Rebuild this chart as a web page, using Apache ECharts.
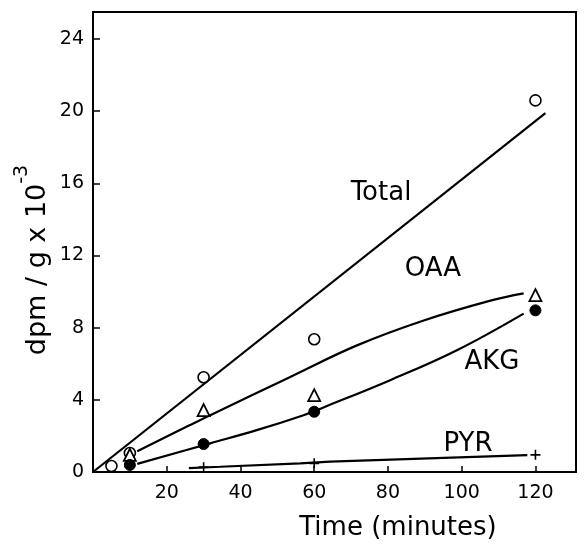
<!DOCTYPE html>
<html>
<head>
<meta charset="utf-8">
<script src="https://cdn.jsdelivr.net/npm/echarts@6/dist/echarts.min.js"></script>
<style>
  html, body { margin: 0; padding: 0; background: #fff; }
  #chart { width: 584px; height: 548px; }
</style>
</head>
<body>
<div id="chart"></div>
<script>
// measured points (time in minutes, dpm/g x 10^-3)
var totalPts = [[5, 0.33], [10, 1.05], [30, 5.25], [60, 7.36], [120, 20.6]];
var oaaPts = [[10, 0.95], [30, 3.43], [60, 4.26], [120, 9.8]];
var akgPts = [[10, 0.39], [30, 1.55], [60, 3.34], [120, 8.96]];
var pyrPts = [[30, 0.27], [60, 0.48], [120, 0.95]];

// hand drawn curves
var totalFit = [[0, 0], [122.7, 19.9]];
var oaaFit = [[12, 1.15], [26.3, 2.6], [31.8, 3.15], [53.5, 5.27], [71.6, 7.02], [89.7, 8.4], [107.8, 9.5], [116.8, 9.9]];
var akgFit = [[12, 0.45], [31.8, 1.59], [44.4, 2.32], [57.1, 3.15], [62.5, 3.58], [80.6, 5.09], [98.7, 6.75], [116.8, 8.78]];
var pyrFit = [[26, 0.22], [34.5, 0.29], [56.2, 0.48], [64.3, 0.57], [117.8, 0.94]];

var yTicks = [0, 4, 8, 12, 16, 20, 24];
var xTicks = [20, 40, 60, 80, 100, 120];

var myChart = echarts.init(document.getElementById('chart'));

var font = 'DejaVu Sans';
var plus = 'path://M4.2,0h1.6v4.2h4.2v1.6h-4.2v4.2h-1.6v-4.2h-4.2v-1.6h4.2z';

function fit(data, smooth) {
    return {
        type: 'line', data: data, showSymbol: false, smooth: smooth,
        lineStyle: { color: '#000', width: 2.2 }, z: 2, silent: true
    };
}

function pts(data, symbol, size, fill, bw) {
    return {
        type: 'scatter', data: data, symbol: symbol, symbolSize: size,
        itemStyle: { color: fill, borderColor: '#000', borderWidth: bw, opacity: 1 },
        z: 5
    };
}

function note(x, y, txt) {
    return {
        type: 'text', x: x, y: y,
        style: { text: txt, font: '26px ' + font, fill: '#000', align: 'center', verticalAlign: 'middle' }
    };
}

var option = {
    animation: false,
    backgroundColor: '#fff',
    grid: {
        left: 93, right: 8, top: 12, bottom: 76,
        show: true, borderColor: '#000', borderWidth: 2
    },
    xAxis: {
        type: 'value', min: 0, max: 131, interval: 20,
        axisLine: { show: true, lineStyle: { color: '#000', width: 2 } },
        axisTick: { inside: true, length: 6, lineStyle: { color: '#000', width: 1.5 } },
        splitLine: { show: false },
        axisLabel: {
            showMinLabel: false, showMaxLabel: false, margin: 12,
            color: '#000', fontFamily: font, fontSize: 19,
            formatter: function (v) { return xTicks.indexOf(v) >= 0 ? String(v) : ''; }
        }
    },
    yAxis: {
        type: 'value', min: 0, max: 25.5, interval: 4,
        axisLine: { show: true, lineStyle: { color: '#000', width: 2 } },
        axisTick: { inside: true, length: 7, lineStyle: { color: '#000', width: 1.5 } },
        splitLine: { show: false },
        axisLabel: {
            showMaxLabel: false, margin: 9,
            color: '#000', fontFamily: font, fontSize: 19,
            formatter: function (v) { return yTicks.indexOf(v) >= 0 ? String(v) : ''; }
        }
    },
    series: [
        fit(totalFit, false),
        fit(oaaFit, 0.4),
        fit(akgFit, 0.4),
        fit(pyrFit, false),
        pts(totalPts, 'circle', 11, '#fff', 1.6),
        pts(oaaPts, 'triangle', 12, '#fff', 1.8),
        pts(akgPts, 'circle', 11, '#000', 1),
        pts(pyrPts, plus, 10, '#000', 0)
    ],
    graphic: [
        note(381, 193, 'Total'),
        note(433, 269, 'OAA'),
        note(492, 362, 'AKG'),
        note(468, 444, 'PYR'),
        note(398, 528, 'Time (minutes)'),
        {
            type: 'text', x: 32, y: 260, rotation: Math.PI / 2,
            style: {
                text: '{a|dpm / g x 10}{s|-3}',
                align: 'center', verticalAlign: 'middle',
                rich: {
                    a: { fontFamily: font, fontSize: 27, color: '#000', lineHeight: 38, verticalAlign: 'bottom' },
                    s: { fontFamily: font, fontSize: 19, color: '#000', lineHeight: 38, verticalAlign: 'top' }
                }
            }
        }
    ]
};

myChart.setOption(option);
</script>
</body>
</html>
